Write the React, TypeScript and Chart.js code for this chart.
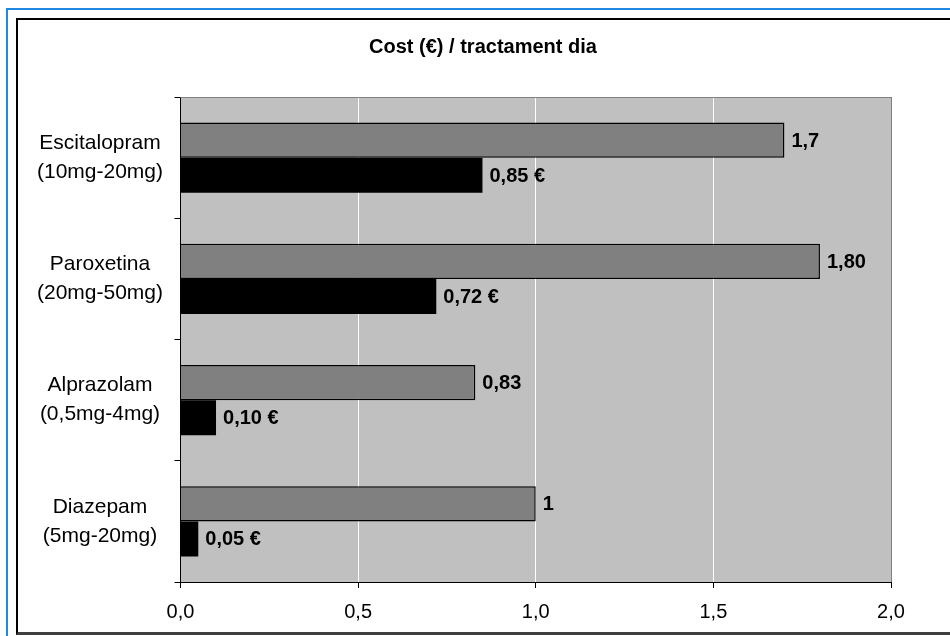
import React, { useEffect, useRef } from "react";
import { Chart, registerables } from "chart.js";

Chart.register(...registerables);

const drugNames = ["Escitalopram", "Paroxetina", "Alprazolam", "Diazepam"];
const doses = ["(10mg-20mg)", "(20mg-50mg)", "(0,5mg-4mg)", "(5mg-20mg)"];
const grayValues = [1.7, 1.8, 0.83, 1.0];
const grayLabels = ["1,7", "1,80", "0,83", "1"];
const blackValues = [0.85, 0.72, 0.1, 0.05];
const blackLabels = ["0,85 €", "0,72 €", "0,10 €", "0,05 €"];
const xTickLabels = ["0,0", "0,5", "1,0", "1,5", "2,0"];
const titleText = "Cost (€) / tractament dia";

const FONT = "Arial, 'Liberation Sans', sans-serif";

const plotBgPlugin = {
  id: "plotBg",
  beforeDraw(chart: any) {
    const { ctx, chartArea } = chart;
    ctx.save();
    ctx.fillStyle = "#c0c0c0";
    ctx.fillRect(chartArea.left, chartArea.top, chartArea.right - chartArea.left, chartArea.bottom - chartArea.top);
    ctx.restore();
  },
  afterDraw(chart: any) {
    const { ctx, chartArea } = chart;
    ctx.save();
    ctx.strokeStyle = "#808080";
    ctx.lineWidth = 1;
    ctx.beginPath();
    ctx.moveTo(chartArea.left, chartArea.top + 0.5);
    ctx.lineTo(chartArea.right + 0.5, chartArea.top + 0.5);
    ctx.lineTo(chartArea.right + 0.5, chartArea.bottom);
    ctx.stroke();
    // chart title
    ctx.font = `bold 20px ${FONT}`;
    ctx.fillStyle = "#000";
    ctx.textAlign = "center";
    ctx.textBaseline = "middle";
    ctx.fillText(titleText, 483, 47);
    ctx.restore();
  },
};

const valueLabelPlugin = {
  id: "valueLabels",
  afterDatasetsDraw(chart: any) {
    const { ctx } = chart;
    const allLabels = [grayLabels, blackLabels];
    ctx.save();
    ctx.font = `bold 20px ${FONT}`;
    ctx.fillStyle = "#000";
    ctx.textAlign = "left";
    ctx.textBaseline = "middle";
    chart.data.datasets.forEach((_ds: any, di: number) => {
      const meta = chart.getDatasetMeta(di);
      meta.data.forEach((el: any, i: number) => {
        ctx.fillText(allLabels[di][i], el.x + 7, el.y + 1);
      });
    });
    ctx.restore();
  },
};

export default function App() {
  const canvasRef = useRef<HTMLCanvasElement | null>(null);

  useEffect(() => {
    if (!canvasRef.current) return;
    const labels = drugNames.map((n, i) => [n, doses[i]]);
    const chart = new Chart(canvasRef.current, {
      type: "bar",
      data: {
        labels,
        datasets: [
          {
            data: grayValues,
            backgroundColor: "#808080",
            borderColor: "#000",
            borderWidth: 1.5,
            categoryPercentage: 0.58,
            barPercentage: 1.0,
          },
          {
            data: blackValues,
            backgroundColor: "#000",
            borderWidth: 0,
            categoryPercentage: 0.58,
            barPercentage: 1.0,
          },
        ],
      },
      options: {
        indexAxis: "y",
        responsive: false,
        animation: false,
        devicePixelRatio: 1,
        layout: { padding: { left: 20, right: 59, top: 97, bottom: 12 } },
        plugins: {
          legend: { display: false },
          tooltip: { enabled: false },
          title: { display: false },
        },
        scales: {
          x: {
            min: 0,
            max: 2,
            afterFit(scale: any) {
              scale.height = 42;
            },
            ticks: {
              stepSize: 0.5,
              color: "#000",
              padding: 12,
              font: { family: FONT, size: 20 },
              callback: (_v: any, i: number) => xTickLabels[i],
            },
            grid: {
              color: (c: any) => (c.tick && c.tick.value === 2 ? "#808080" : "#ffffff"),
              tickColor: "#000",
              tickLength: 6,
              lineWidth: 1,
            },
            border: { display: true, color: "#000", width: 1 },
          },
          y: {
            afterFit(scale: any) {
              scale.width = 160.5;
            },
            ticks: {
              color: "#000",
              padding: 11.5,
              crossAlign: "center",
              font: { family: FONT, size: 21, lineHeight: 1.38 },
            },
            grid: {
              drawOnChartArea: false,
              drawTicks: true,
              tickLength: 6,
              tickColor: "#000",
              color: "#000",
            },
            border: { display: true, color: "#000", width: 1 },
          },
        },
      },
      plugins: [plotBgPlugin, valueLabelPlugin],
    } as any);
    return () => chart.destroy();
  }, []);

  return (
    <div style={{ position: "absolute", left: 0, top: 0, width: 950, height: 636, overflow: "hidden", background: "#fff" }}>
      <div
        style={{
          position: "absolute",
          left: 6,
          top: 8,
          width: 1000,
          height: 700,
          borderLeft: "2px solid #1e88e0",
          borderTop: "2px solid #1e88e0",
        }}
      />
      <div
        style={{
          position: "absolute",
          left: 16,
          top: 18,
          width: 1000,
          height: 612,
          borderLeft: "2px solid #000",
          borderTop: "2px solid #000",
          borderBottom: "3px solid #404040",
        }}
      />
      <canvas ref={canvasRef} width={950} height={636} style={{ position: "absolute", left: 0, top: 0 }} />
    </div>
  );
}
